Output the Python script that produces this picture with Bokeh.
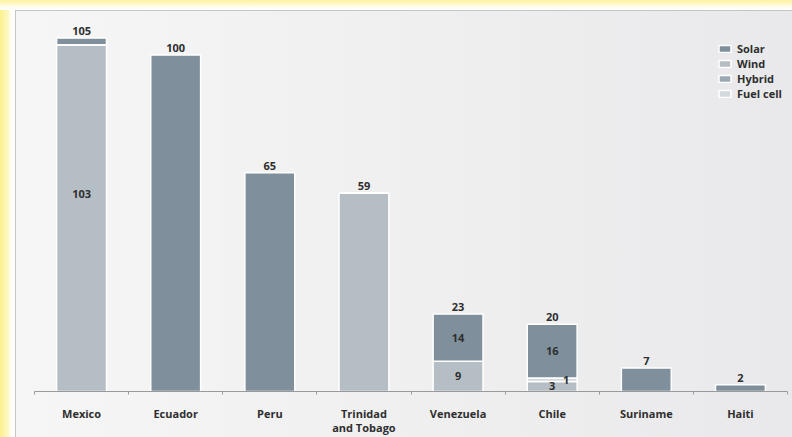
from bokeh.plotting import figure
from bokeh.models import FixedTicker, Legend, LegendItem, ColumnDataSource, Range1d
from bokeh.core.properties import value
from bokeh.embed import file_html
from bokeh.resources import INLINE

# ---- data ----
countries = ["Mexico", "Ecuador", "Peru", "Trinidad\nand Tobago",
             "Venezuela", "Chile", "Suriname", "Haiti"]
wind = [103, 0, 0, 59, 9, 3, 0, 0]
fuel_cell = [0, 0, 0, 0, 0, 1, 0, 0]
hybrid = [0, 0, 0, 0, 0, 0, 0, 0]
solar = [2, 100, 65, 0, 14, 16, 7, 2]
totals = [105, 100, 65, 59, 23, 20, 7, 2]

# inner labels: (country index, series, shown value)
inner_country = [0, 4, 4, 5, 5, 5]
inner_series = ["wind", "wind", "solar", "wind", "fuel_cell", "solar"]
inner_text = ["103", "9", "14", "3", "1", "16"]
inner_frac = [0.57, 0.5, 0.5, 0.5, 0.3, 0.5]      # position inside segment
inner_dx = [0, 0, 0, 0, 14, 0]                   # screen x offset

# ---- styling ----
C_SOLAR = "#7f909c"
C_WIND = "#b6bec5"
C_HYBRID = "#9aa8b3"
C_FUEL = "#d3d9de"
TXT = "#2e2e2e"
FONT = "Open Sans"

stack_order = ["wind", "fuel_cell", "hybrid", "solar"]
colors = {"wind": C_WIND, "fuel_cell": C_FUEL, "hybrid": C_HYBRID, "solar": C_SOLAR}
data = dict(wind=wind, fuel_cell=fuel_cell, hybrid=hybrid, solar=solar)

n = len(countries)
xs = [i + 0.5 for i in range(n)]
source = ColumnDataSource(dict(x=xs, **data))

W, H = 792, 437
p = figure(width=W, height=H, output_backend="svg", toolbar_location=None,
           x_range=Range1d(0, n), y_range=Range1d(0, 112.9),
           min_border_left=34, min_border_right=5, min_border_top=11,
           min_border_bottom=40)
p.border_fill_color = None
p.background_fill_color = None
p.outline_line_color = None
p.styles = {
    "background": (
        "linear-gradient(#c6c6c6,#c6c6c6) 15px 10px / 1px calc(100% - 10px) no-repeat,"
        "linear-gradient(#c6c6c6,#c6c6c6) 15px 10px / calc(100% - 15px) 1px no-repeat,"
        "linear-gradient(to right, #f6f6f6, #e9e9eb) 16px 11px / calc(100% - 16px) calc(100% - 11px) no-repeat,"
        "linear-gradient(to bottom, #fdf2a0 0px, #fffbe0 6px, #ffffff 9px) 0 0 / 100% 10px no-repeat,"
        "linear-gradient(to right, #fcf08c 0px, #fef8c4 8px, #ffffff 12px)"
    )
}

renderers = p.vbar_stack(stack_order, x="x", width=0.53, source=source,
                         color=[colors[s] for s in stack_order],
                         line_color="white", line_width=1.5)
rmap = dict(zip(stack_order, renderers))

# grid / axes
p.xgrid.visible = False
p.ygrid.visible = False
p.yaxis.visible = False

ax = p.xaxis[0]
ax.ticker = FixedTicker(ticks=xs, minor_ticks=list(range(n + 1)))
ax.major_label_overrides = {x: c for x, c in zip(xs, countries)}
ax.major_tick_line_color = None
ax.minor_tick_line_color = "#9a9a9a"
ax.minor_tick_in = 0
ax.minor_tick_out = 3
ax.axis_line_color = "#9a9a9a"
ax.axis_line_width = 1
ax.major_label_standoff = 8
ax.major_label_text_font = FONT
ax.major_label_text_font_style = "bold"
ax.major_label_text_font_size = "11px"
ax.major_label_text_color = TXT
ax.major_label_text_line_height = 0.95

# total labels
p.text(x=xs, y=totals, text=[str(t) for t in totals],
       text_align="center", text_baseline="bottom", y_offset=-3,
       text_font=value(FONT), text_font_style="bold",
       text_font_size="11px", text_color=TXT)

# inner labels
iy = []
ix = []
for ci, s, fr in zip(inner_country, inner_series, inner_frac):
    base = sum(data[k][ci] for k in stack_order[:stack_order.index(s)])
    iy.append(base + data[s][ci] * fr)
    ix.append(xs[ci])
isrc = ColumnDataSource(dict(x=ix, y=iy, t=inner_text, dx=inner_dx))
p.text(x="x", y="y", text="t", x_offset="dx", source=isrc,
       text_align="center", text_baseline="middle",
       text_font=value(FONT), text_font_style="bold",
       text_font_size="11px", text_color=TXT)

# legend
legend = Legend(items=[
    LegendItem(label="Solar", renderers=[rmap["solar"]]),
    LegendItem(label="Wind", renderers=[rmap["wind"]]),
    LegendItem(label="Hybrid", renderers=[rmap["hybrid"]]),
    LegendItem(label="Fuel cell", renderers=[rmap["fuel_cell"]]),
], location=(683, 290))
legend.padding = 0
legend.margin = 0
legend.spacing = 0
legend.glyph_width = 15
legend.glyph_height = 9
legend.label_height = 12
legend.label_standoff = 5
legend.label_text_font = FONT
legend.label_text_font_style = "bold"
legend.label_text_font_size = "11px"
legend.label_text_color = TXT
legend.label_text_line_height = 0.8
legend.border_line_color = None
legend.background_fill_color = None
legend.background_fill_alpha = 0
p.add_layout(legend)

open("out.html", "w").write(file_html(p, INLINE))
